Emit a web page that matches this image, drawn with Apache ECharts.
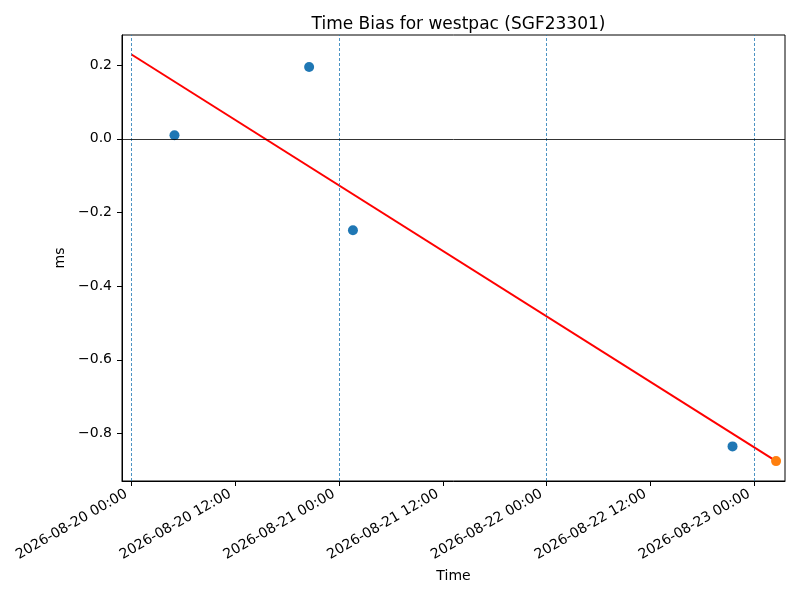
<!DOCTYPE html>
<html>
<head>
<meta charset="utf-8">
<script src="https://cdn.jsdelivr.net/npm/echarts@6/dist/echarts.min.js"></script>
<style>html,body{margin:0;padding:0;background:#fff}#c{width:800px;height:600px}</style>
</head>
<body>
<div id="c"></div>
<script>
// Data
var baseTime = '2026-08-20 00:00';
var pointTimes = ['2026-08-20 04:58', '2026-08-20 20:32', '2026-08-21 01:36', '2026-08-22 21:29'];
var pointValues = [0.010, 0.195, -0.248, -0.835];
var lastTime = ['2026-08-23 02:31'];
var lastValue = [-0.875];
var fitTimes = ['2026-08-20 00:00', '2026-08-23 02:31'];
var fitValues = [0.229, -0.875];
var xTickTimes = ['2026-08-20 00:00', '2026-08-20 12:00', '2026-08-21 00:00', '2026-08-21 12:00', '2026-08-22 00:00', '2026-08-22 12:00', '2026-08-23 00:00'];
var dayLines = ['2026-08-20 00:00', '2026-08-21 00:00', '2026-08-22 00:00', '2026-08-23 00:00'];
var yTicks = [-0.8, -0.6, -0.4, -0.2, 0.0, 0.2];

function parseT(s) {
  var m = s.match(/(\d+)-(\d+)-(\d+) (\d+):(\d+)/);
  return Date.UTC(+m[1], +m[2] - 1, +m[3], +m[4], +m[5]);
}
var t0 = parseT(baseTime);
function hrs(s) { return (parseT(s) - t0) / 3600000; }
function pad(n) { return (n < 10 ? '0' : '') + n; }
function fmtH(h) {
  var d = new Date(t0 + Math.round(h * 3600000));
  return d.getUTCFullYear() + '-' + pad(d.getUTCMonth() + 1) + '-' + pad(d.getUTCDate()) + ' ' + pad(d.getUTCHours()) + ':' + pad(d.getUTCMinutes());
}

var font = 'DejaVu Sans';
var chart = echarts.init(document.getElementById('c'));
chart.setOption({
  animation: false,
  backgroundColor: '#fff',
  title: {
    text: 'Time Bias for westpac (SGF23301)',
    left: 453.5, top: 11, textAlign: 'center',
    textStyle: { fontFamily: font, fontSize: 17, fontWeight: 'normal', color: '#000' }
  },
  grid: { left: 122, right: 15, top: 35, bottom: 119, show: true, borderColor: '#000', borderWidth: 1, backgroundColor: 'transparent' },
  xAxis: {
    type: 'value', min: -1.10, max: 75.55,
    name: 'Time', nameLocation: 'middle', nameGap: 88,
    nameTextStyle: { fontFamily: font, fontSize: 14, color: '#000' },
    axisLine: { show: true, onZero: false, lineStyle: { color: '#000', width: 1 } },
    axisTick: { show: true, length: 5, lineStyle: { color: '#000' }, customValues: xTickTimes.map(hrs) },
    axisLabel: { rotate: 30, fontFamily: font, fontSize: 14, color: '#000', margin: 9, padding: [0, 6, 0, 0], customValues: xTickTimes.map(hrs), formatter: function (v) { return fmtH(v); } },
    splitLine: { show: false }
  },
  yAxis: {
    type: 'value', min: -0.929, max: 0.282,
    name: 'ms', nameLocation: 'middle', nameGap: 49,
    nameTextStyle: { fontFamily: font, fontSize: 14, color: '#000' },
    axisLine: { show: true, onZero: false, lineStyle: { color: '#000', width: 1 } },
    axisTick: { show: true, length: 5, lineStyle: { color: '#000' }, customValues: yTicks },
    axisLabel: { fontFamily: font, fontSize: 14, color: '#000', margin: 10, customValues: yTicks, formatter: function (v) { return v.toFixed(1).replace('-', '\u2212'); } },
    splitLine: { show: false }
  },
  series: [
    {
      type: 'line', data: [], silent: true,
      markLine: {
        silent: true, symbol: 'none', label: { show: false },
        data: dayLines.map(function (s) { return { xAxis: hrs(s), lineStyle: { color: '#1f77b4', type: [3, 2], width: 0.8 } }; })
          .concat([{ yAxis: 0, lineStyle: { color: '#000', type: 'solid', width: 0.8 } }])
      }
    },
    {
      type: 'line', showSymbol: false, symbol: 'none',
      lineStyle: { color: '#ff0000', width: 2 },
      data: fitTimes.map(function (s, i) { return [hrs(s), fitValues[i]]; }), z: 3
    },
    {
      type: 'scatter', symbolSize: 10, itemStyle: { color: '#1f77b4', opacity: 1 },
      data: pointTimes.map(function (s, i) { return [hrs(s), pointValues[i]]; }), z: 4
    },
    {
      type: 'scatter', symbolSize: 10, itemStyle: { color: '#ff7f0e', opacity: 1 },
      data: lastTime.map(function (s, i) { return [hrs(s), lastValue[i]]; }), z: 5
    }
  ]
});
</script>
</body>
</html>
